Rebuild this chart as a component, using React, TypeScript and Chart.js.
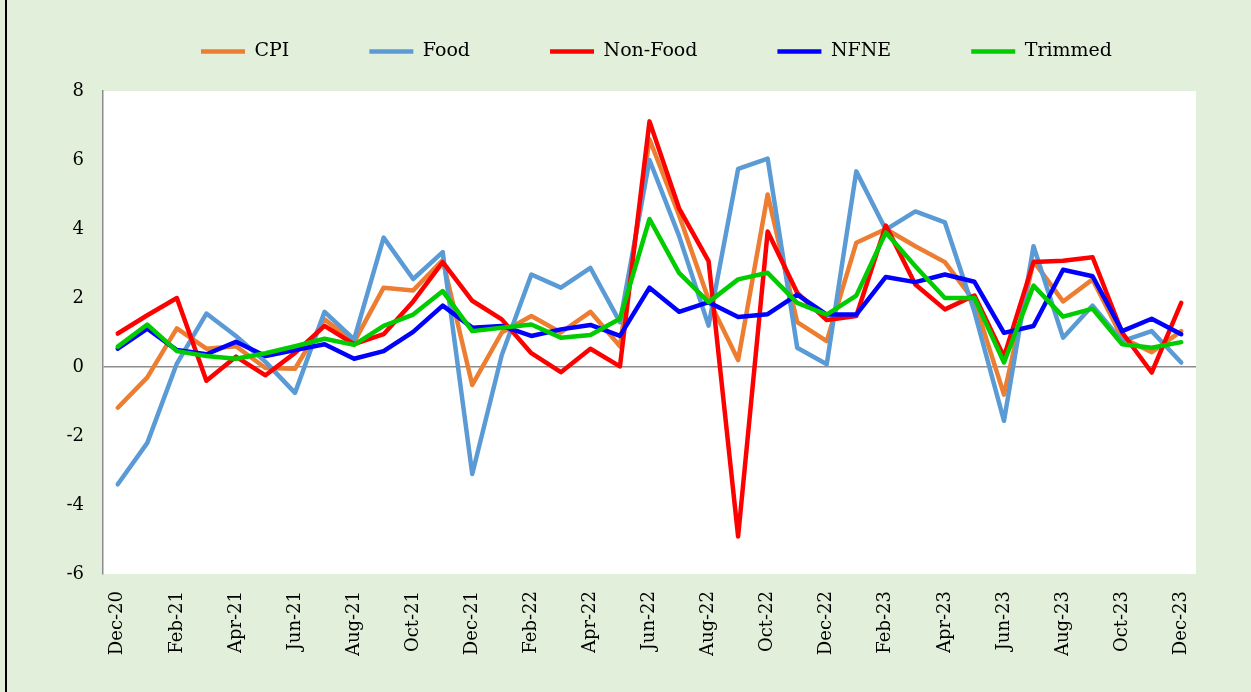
import React, { useEffect, useRef } from 'react';
import { Chart, registerables } from 'chart.js';

Chart.register(...registerables);

const months = [
  'Dec-20', 'Jan-21', 'Feb-21', 'Mar-21', 'Apr-21', 'May-21', 'Jun-21', 'Jul-21', 'Aug-21', 'Sep-21', 'Oct-21', 'Nov-21',
  'Dec-21', 'Jan-22', 'Feb-22', 'Mar-22', 'Apr-22', 'May-22', 'Jun-22', 'Jul-22', 'Aug-22', 'Sep-22', 'Oct-22', 'Nov-22',
  'Dec-22', 'Jan-23', 'Feb-23', 'Mar-23', 'Apr-23', 'May-23', 'Jun-23', 'Jul-23', 'Aug-23', 'Sep-23', 'Oct-23', 'Nov-23',
  'Dec-23',
];

const cpi = [
  -1.18, -0.3, 1.12, 0.53, 0.6, -0.03, -0.05, 1.38, 0.72, 2.3, 2.22, 3.1,
  -0.52, 1.0, 1.48, 1.0, 1.6, 0.6, 6.6, 4.4, 1.96, 0.2, 5.0, 1.3,
  0.75, 3.6, 4.0, 3.5, 3.04, 1.9, -0.8, 3.07, 1.9, 2.54, 0.85, 0.43,
  1.04,
];

const food = [
  -3.4, -2.2, 0.1, 1.55, 0.9, 0.15, -0.75, 1.6, 0.8, 3.75, 2.55, 3.33,
  -3.1, 0.35, 2.68, 2.3, 2.87, 1.3, 6.0, 3.8, 1.2, 5.74, 6.04, 0.56,
  0.08, 5.67, 3.98, 4.51, 4.19, 1.6, -1.56, 3.5, 0.85, 1.78, 0.75, 1.04,
  0.13,
];

const nonFood = [
  0.97, 1.5, 2.0, -0.4, 0.3, -0.24, 0.41, 1.19, 0.66, 0.95, 1.9, 3.04,
  1.92, 1.38, 0.4, -0.15, 0.53, 0.02, 7.12, 4.6, 3.07, -4.91, 3.93, 2.15,
  1.36, 1.48, 4.1, 2.39, 1.67, 2.07, 0.3, 3.04, 3.08, 3.18, 1.0, -0.16,
  1.86,
];

const nfne = [
  0.53, 1.11, 0.49, 0.37, 0.73, 0.32, 0.49, 0.66, 0.24, 0.46, 1.02, 1.78,
  1.14, 1.19, 0.9, 1.09, 1.22, 0.9, 2.3, 1.6, 1.88, 1.45, 1.53, 2.1,
  1.52, 1.52, 2.61, 2.46, 2.68, 2.47, 0.99, 1.19, 2.82, 2.63, 1.04, 1.4,
  0.95,
];

const trimmed = [
  0.59, 1.23, 0.46, 0.32, 0.24, 0.4, 0.6, 0.82, 0.64, 1.19, 1.52, 2.2,
  1.04, 1.14, 1.23, 0.85, 0.93, 1.4, 4.29, 2.73, 1.88, 2.54, 2.73, 1.86,
  1.52, 2.07, 3.9, 2.92, 2.0, 2.0, 0.13, 2.36, 1.46, 1.69, 0.66, 0.56,
  0.72,
];

const seriesNames = ['CPI', 'Food', 'Non-Food', 'NFNE', 'Trimmed'];
const seriesColors = ['#ED7D31', '#5B9BD5', '#FF0000', '#0000FF', '#00CC00'];
const yTicks = { min: -6, max: 8, step: 2 };

const FONT = "'DejaVu Serif', 'Liberation Serif', serif";
const AXIS_GRAY = '#8C8C8C';

export default function App() {
  const ref = useRef<HTMLCanvasElement>(null);

  useEffect(() => {
    document.body.style.margin = '0';
    const canvas = ref.current;
    if (!canvas) return;

    const bgPlugin = {
      id: 'bgPlugin',
      beforeDraw(chart: any) {
        const { ctx, width, height, chartArea: a } = chart;
        ctx.save();
        ctx.fillStyle = '#E2EFDA';
        ctx.fillRect(0, 0, width, height);
        ctx.fillStyle = '#FFFFFF';
        ctx.fillRect(a.left, a.top, a.right - a.left, a.bottom - a.top);
        ctx.fillStyle = '#000000';
        ctx.fillRect(5, 0, 2, height);
        ctx.restore();
      },
    };

    const legendTweak = {
      id: 'legendTweak',
      beforeLayout(chart: any) {
        const lg = chart.legend;
        if (lg && !lg._patched) {
          const f = lg.fit;
          lg.fit = function () {
            f.call(this);
            this.height = 91;
          };
          lg._patched = true;
        }
      },
      afterLayout(chart: any) {
        const lg = chart.legend;
        if (lg) {
          lg.top = -38;
          lg.left = 62;
          lg.right = 1251;
        }
      },
    };

    const allData = [cpi, food, nonFood, nfne, trimmed];
    const datasets = seriesNames.map((name, i) => ({
      label: name,
      data: allData[i],
      borderColor: seriesColors[i],
      backgroundColor: seriesColors[i],
      borderWidth: 4.5,
      pointRadius: 0,
      pointHoverRadius: 0,
      tension: 0,
      fill: false,
      borderCapStyle: 'round' as const,
      borderJoinStyle: 'round' as const,
      order: seriesNames.length - i,
    }));

    const chart = new Chart(canvas, {
      type: 'line',
      data: { labels: months, datasets },
      options: {
        responsive: false,
        animation: false,
        layout: { padding: { left: 0, right: 55, top: 0, bottom: 0 } },
        plugins: {
          tooltip: { enabled: false },
          legend: {
            display: true,
            position: 'top',
            labels: {
              usePointStyle: true,
              pointStyle: 'line',
              pointStyleWidth: 44,
              padding: 80,
              color: '#000',
              font: { family: FONT, size: 19 },
              sort: (a: any, b: any) => a.datasetIndex - b.datasetIndex,
            },
          },
        },
        scales: {
          x: {
            type: 'category',
            offset: true,
            grid: { display: false, drawTicks: false },
            border: { display: false },
            ticks: {
              autoSkip: false,
              minRotation: 90,
              maxRotation: 90,
              padding: 17,
              color: '#000',
              font: { family: FONT, size: 18 },
              callback: (_v: any, i: number) => (i % 2 === 0 ? months[i] : ''),
            },
            afterFit: (s: any) => {
              s.height = 118;
            },
          },
          y: {
            min: yTicks.min,
            max: yTicks.max,
            ticks: {
              stepSize: yTicks.step,
              padding: 19,
              color: '#000',
              font: { family: FONT, size: 18 },
            },
            grid: {
              drawTicks: false,
              color: (c: any) => (c.tick && c.tick.value === 0 ? AXIS_GRAY : 'rgba(0,0,0,0)'),
              lineWidth: 1.5,
            },
            border: { display: true, color: AXIS_GRAY, width: 1.5 },
            afterFit: (s: any) => {
              s.width = 103;
            },
          },
        },
      },
      plugins: [bgPlugin, legendTweak],
    });

    return () => chart.destroy();
  }, []);

  return (
    <div style={{ width: 1251, height: 692 }}>
      <canvas ref={ref} width={1251} height={692} style={{ display: 'block' }} />
    </div>
  );
}
